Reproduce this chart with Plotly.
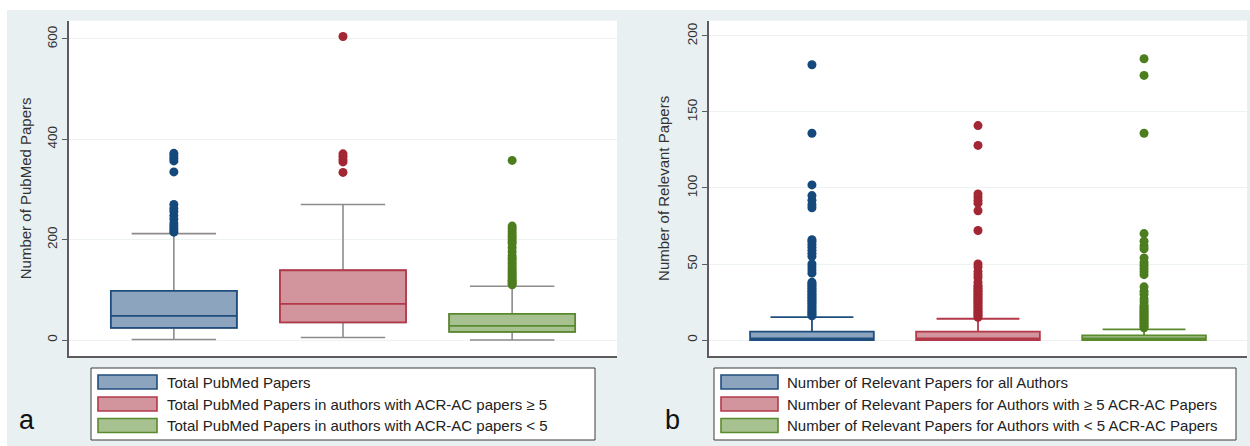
import plotly.graph_objects as go

W, H = 1250, 446

# ---------------- data ----------------
categories = ["all", "ge5", "lt5"]

labels_a = ["Total PubMed Papers",
            "Total PubMed Papers in authors with ACR-AC papers ≥ 5",
            "Total PubMed Papers in authors with ACR-AC papers < 5"]
labels_b = ["Number of Relevant Papers for all Authors",
            "Number of Relevant Papers for Authors with ≥ 5 ACR-AC Papers",
            "Number of Relevant Papers for Authors with < 5 ACR-AC Papers"]

# Panel a: Total PubMed papers (min whisker, Q1, median, Q3, max whisker)
a_lower = [1, 5, 0]
a_q1 = [24, 35, 16]
a_median = [48, 72, 28]
a_q3 = [98, 139, 52]
a_upper = [212, 270, 107]
a_out_all = [215, 219, 223, 228, 233, 241, 248, 256, 262, 270, 335, 357, 362, 367, 372]
a_out_ge5 = [334, 355, 360, 366, 371, 605]
a_out_lt5 = [110, 113, 116, 119, 122, 126, 130, 134, 138, 143, 148, 153, 158, 163,
             168, 176, 184, 192, 197, 202, 207, 212, 217, 222, 227, 358]

# Panel b: Relevant papers
b_lower = [0, 0, 0]
b_q1 = [0, 0, 0]
b_median = [1, 1, 1]
b_q3 = [5.5, 5.5, 3]
b_upper = [15, 14, 7]
b_out_all = [16, 17, 18, 19, 20, 21, 22, 23, 24, 25, 26, 27, 28, 29, 30, 31, 32, 33, 34,
             35, 36, 37, 38, 44, 46, 48, 50, 55, 57, 59, 61, 63, 65, 66, 87, 89, 92, 95,
             102, 136, 181]
b_out_ge5 = [15, 16, 17, 18, 19, 20, 21, 22, 23, 24, 25, 26, 27, 28, 29, 30, 31, 32, 33,
             34, 35, 36, 38, 41, 43, 45, 48, 50, 72, 85, 90, 92, 94, 96, 128, 141]
b_out_lt5 = [8, 9, 10, 11, 12, 13, 14, 15, 16, 17, 18, 19, 20, 21, 22, 23, 25, 27, 30,
             32, 35, 43, 45, 47, 49, 51, 54, 60, 62, 65, 70, 136, 174, 185]

a_ticks = [0, 200, 400, 600]
b_ticks = [0, 50, 100, 150, 200]

# ---------------- styles ----------------
line_cols = ["#1f4e7e", "#b3394a", "#5a8a2e"]
fill_cols = ["#8ca4bd", "#d3959d", "#a8c190"]
dot_cols = ["#15497c", "#a22633", "#4c7d1e"]
whisker_gray = "#8c8c8c"
FONT = "Liberation Sans, Arial, Helvetica, sans-serif"
BOXW = 0.745
WW = 0.67

fig = go.Figure()

a_outs = [a_out_all, a_out_ge5, a_out_lt5]
b_outs = [b_out_all, b_out_ge5, b_out_lt5]

# Panel a: gray whiskers under coloured boxes
for i, c in enumerate(categories):
    fig.add_trace(go.Box(x=[c], q1=[a_q1[i]], median=[a_median[i]], q3=[a_q3[i]],
                         lowerfence=[a_lower[i]], upperfence=[a_upper[i]],
                         width=BOXW, whiskerwidth=WW, boxpoints=False,
                         fillcolor=fill_cols[i], line=dict(color=whisker_gray, width=1.6),
                         showlegend=False, xaxis="x", yaxis="y", hoverinfo="skip"))
    fig.add_trace(go.Box(x=[c], q1=[a_q1[i]], median=[a_median[i]], q3=[a_q3[i]],
                         lowerfence=[a_q1[i]], upperfence=[a_q3[i]],
                         width=BOXW, whiskerwidth=0, boxpoints=False,
                         fillcolor=fill_cols[i], line=dict(color=line_cols[i], width=1.8),
                         name=labels_a[i], showlegend=False, xaxis="x", yaxis="y"))
    fig.add_trace(go.Scatter(x=[c] * len(a_outs[i]), y=a_outs[i], mode="markers",
                             marker=dict(size=9, color=dot_cols[i]),
                             showlegend=False, xaxis="x", yaxis="y"))

# Panel b
for i, c in enumerate(categories):
    fig.add_trace(go.Box(x=[c], q1=[b_q1[i]], median=[b_median[i]], q3=[b_q3[i]],
                         lowerfence=[b_lower[i]], upperfence=[b_upper[i]],
                         width=BOXW, whiskerwidth=WW, boxpoints=False,
                         fillcolor=fill_cols[i], line=dict(color=line_cols[i], width=1.8),
                         name=labels_b[i], showlegend=False, xaxis="x2", yaxis="y2"))
    fig.add_trace(go.Scatter(x=[c] * len(b_outs[i]), y=b_outs[i], mode="markers",
                             marker=dict(size=9, color=dot_cols[i]),
                             showlegend=False, xaxis="x2", yaxis="y2"))


def px(x):
    return x / W


def py(y):
    return 1 - y / H


axis_line = "#5c5c5c"
grid = "#edf2f3"

common_x = dict(type="category", categoryarray=categories, range=[-0.62, 2.62],
                showticklabels=False, ticks="", showgrid=False, zeroline=False,
                showline=True, linecolor=axis_line, linewidth=1.5, fixedrange=True)
common_y = dict(ticks="outside", ticklen=5, tickcolor=axis_line, tickwidth=1.2,
                tickangle=-90, tickfont=dict(size=13.5, color="#333333", family=FONT),
                showline=True, linecolor=axis_line, linewidth=1.5,
                gridcolor=grid, gridwidth=1, zeroline=False, fixedrange=True)

fig.update_layout(
    width=W, height=H,
    margin=dict(l=0, r=0, t=0, b=0),
    paper_bgcolor="#e8f0f2",
    plot_bgcolor="#ffffff",
    boxmode="overlay",
    font=dict(family=FONT, color="#222222"),
    xaxis=dict(domain=[px(69), px(617)], anchor="y", **common_x),
    yaxis=dict(domain=[py(356), py(20.7)], anchor="x", range=[-31.9, 636.4],
               tickvals=a_ticks,
               title=dict(text="Number of PubMed Papers", standoff=10,
                          font=dict(size=15, color="#333333", family=FONT)),
               **common_y),
    xaxis2=dict(domain=[px(709), px(1247)], anchor="y2", **common_x),
    yaxis2=dict(domain=[py(356), py(20.7)], anchor="x2", range=[-10.5, 210],
                tickvals=b_ticks,
                title=dict(text="Number of Relevant Papers", standoff=12,
                           font=dict(size=15, color="#333333", family=FONT)),
                **common_y),
)

shapes = []
annotations = []
# white strips outside the grey panel background
shapes.append(dict(type="rect", xref="paper", yref="paper", x0=0, x1=1, y0=py(10), y1=1,
                   fillcolor="#ffffff", line=dict(width=0), layer="below"))
shapes.append(dict(type="rect", xref="paper", yref="paper", x0=0, x1=px(7), y0=0, y1=1,
                   fillcolor="#ffffff", line=dict(width=0), layer="below"))


def add_legend(x0, x1, sw_x0, sw_x1, text_x, labels):
    shapes.append(dict(type="rect", xref="paper", yref="paper",
                       x0=px(x0), x1=px(x1), y0=py(440), y1=py(368),
                       fillcolor="#ffffff", line=dict(color="#3a3a3a", width=1)))
    for i, (yc, lab) in enumerate(zip([382, 404, 425.5], labels)):
        shapes.append(dict(type="rect", xref="paper", yref="paper",
                           x0=px(sw_x0), x1=px(sw_x1), y0=py(yc + 7), y1=py(yc - 7),
                           fillcolor=fill_cols[i], line=dict(color=line_cols[i], width=1.6)))
        annotations.append(dict(xref="paper", yref="paper", x=px(text_x), y=py(yc),
                                xanchor="left", yanchor="middle", showarrow=False,
                                text=lab, font=dict(size=15, color="#222222", family=FONT)))


add_legend(91, 595, 98, 157, 165, labels_a)
add_legend(714, 1236, 721, 778, 785, labels_b)

annotations.append(dict(xref="paper", yref="paper", x=px(17), y=py(437), xanchor="left",
                        yanchor="bottom", showarrow=False, text="a",
                        font=dict(size=27, color="#111111", family=FONT)))
annotations.append(dict(xref="paper", yref="paper", x=px(663), y=py(437), xanchor="left",
                        yanchor="bottom", showarrow=False, text="b",
                        font=dict(size=27, color="#111111", family=FONT)))

fig.update_layout(shapes=shapes, annotations=annotations)

fig.write_html("out.html", config={"displayModeBar": False},
               post_script="document.body.style.margin='0';document.body.style.overflow='hidden';")
